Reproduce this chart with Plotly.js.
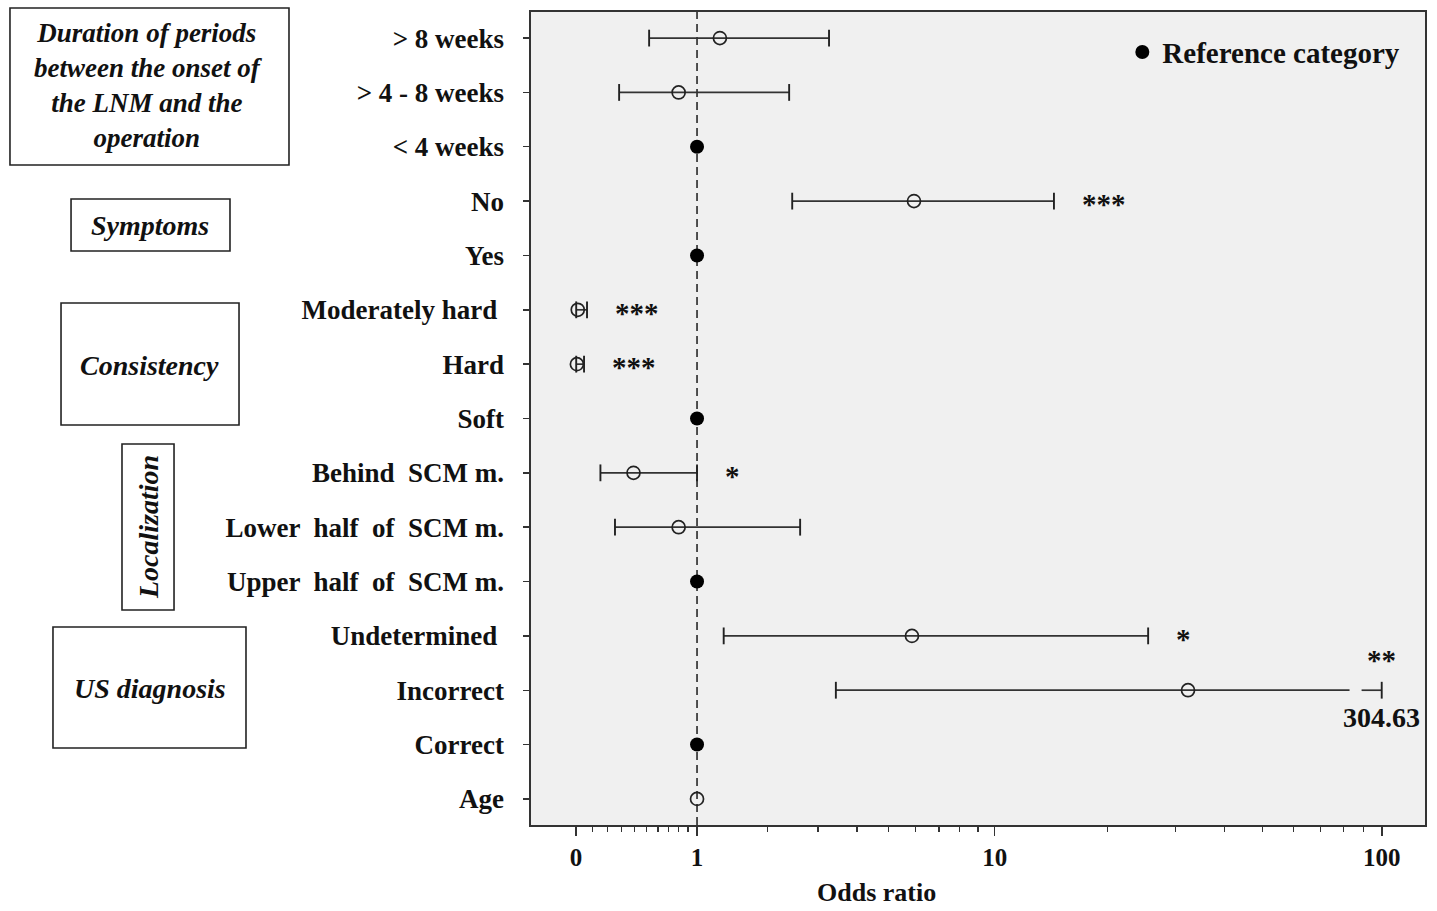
<!DOCTYPE html>
<html>
<head>
<meta charset="utf-8">
<script src="https://cdn.plot.ly/plotly-3.0.1.min.js"></script>
<style>html,body{margin:0;padding:0;background:#fff;}#chart{width:1437px;height:911px;}</style>
</head>
<body>
<div id="chart"></div>
<script>
// ---- data ----
const categories = ["> 8 weeks", "> 4 - 8 weeks", "< 4 weeks", "No", "Yes", "Moderately hard ", "Hard", "Soft",
  "Behind  SCM m.", "Lower  half  of  SCM m.", "Upper  half  of  SCM m.", "Undetermined ", "Incorrect", "Correct", "Age"];
const oddsRatio = [1.28, 0.80, 1, 5.93, 1, 0.01, 0.005, 1, 0.39, 0.80, 1, 5.85, 32.3, 1, 1.00];
const ciLower   = [0.52, 0.28, null, 2.45, null, 0.001, 0.001, null, 0.15, 0.25, null, 1.33, 3.43, null, null];
const ciUpper   = [3.26, 2.39, null, 14.45, null, 0.065, 0.047, null, 1.00, 2.61, null, 25.5, 304.63, null, null];
const isReference = [false, false, true, false, true, false, false, true, false, false, true, false, false, true, false];
const significance = ["", "", "", "***", "", "***", "***", "", "*", "", "", "*", "**", "", ""];
const tickValues = [0, 1, 10, 100];
const tickLabels = ["0", "1", "10", "100"];
const minorValues = [0.1,0.2,0.3,0.4,0.5,0.6,0.7,0.8,0.9,2,3,4,5,6,7,8,9,20,30,40,50,60,70,80,90];
const axisMax = 100;

// axis transform: log10(OR + 1)
const f = v => Math.log10(v + 1);
const SERIF = "Liberation Serif, 'Times New Roman', serif";
const INK = "#222";

// CI lines + caps
const ciX = [], ciY = [], capX = [], capY = [];
const annotations = [];
const starFont = {family: SERIF, size: 29, color: "#111", weight: "bold"};
categories.forEach((c, i) => {
  if (ciLower[i] == null) return;
  const lo = ciLower[i], hi = ciUpper[i];
  if (hi > axisMax) {
    ciX.push(f(lo), f(axisMax * 0.83), null, f(axisMax * 0.89), f(axisMax), null);
    ciY.push(c, c, null, c, c, null);
    capX.push(f(lo), f(axisMax)); capY.push(c, c);
    annotations.push({x: f(axisMax), y: i, text: hi.toFixed(2), showarrow: false, xanchor: "center", yanchor: "middle",
      yshift: -27, font: {family: SERIF, size: 28, color: "#111", weight: "bold"}});
    if (significance[i]) annotations.push({x: f(axisMax), y: i, text: significance[i], showarrow: false, xanchor: "center",
      yanchor: "middle", yshift: 30, font: starFont});
  } else {
    ciX.push(f(lo), f(hi), null); ciY.push(c, c, null);
    capX.push(f(lo), f(hi)); capY.push(c, c);
    if (significance[i]) annotations.push({x: f(hi), y: i, text: significance[i], showarrow: false, xanchor: "left",
      yanchor: "middle", xshift: 26, yshift: -3, font: starFont});
  }
});

const estX = [], estY = [], refX = [], refY = [];
categories.forEach((c, i) => {
  if (isReference[i]) { refX.push(f(oddsRatio[i])); refY.push(c); }
  else { estX.push(f(oddsRatio[i])); estY.push(c); }
});

const traces = [
  {x: ciX, y: ciY, type: "scatter", mode: "lines", line: {color: "#333", width: 1.7}, showlegend: false, hoverinfo: "skip"},
  {x: capX, y: capY, type: "scatter", mode: "markers", marker: {symbol: "line-ns", size: 12, line: {color: "#222", width: 1.9}}, showlegend: false, hoverinfo: "skip"},
  {x: estX, y: estY, type: "scatter", mode: "markers", marker: {symbol: "circle-open", size: 13, color: INK, line: {width: 1.7, color: INK}}, showlegend: false},
  {x: refX, y: refY, type: "scatter", mode: "markers", name: "Reference category", marker: {symbol: "circle", size: 14, color: "#000"}, showlegend: true}
];

// left group boxes (paper coords)
const boxes = [
  {x0: -0.5828, x1: -0.2707, y0: 0.8118, y1: 1.0049, cx: -0.4273, cy: 0.909, text: "Duration of periods<br>between the onset of<br>the LNM and the<br>operation", angle: 0, size: 27},
  {x0: -0.5145, x1: -0.3367, y0: 0.7060, y1: 0.7700, cx: -0.4262, cy: 0.738, text: "Symptoms", angle: 0, size: 28},
  {x0: -0.5257, x1: -0.3266, y0: 0.4920, y1: 0.6421, cx: -0.4262, cy: 0.5658, text: "Consistency", angle: 0, size: 28},
  {x0: -0.4575, x1: -0.3993, y0: 0.2645, y1: 0.4686, cx: -0.4284, cy: 0.3665, text: "Localization", angle: -90, size: 28},
  {x0: -0.5347, x1: -0.3188, y0: 0.0947, y1: 0.2435, cx: -0.4262, cy: 0.1685, text: "US diagnosis", angle: 0, size: 28}
];
const shapes = [
  {type: "line", xref: "x", yref: "paper", x0: f(1), x1: f(1), y0: 0, y1: 1, layer: "below", line: {color: "#333", width: 1.7, dash: "8px,5px"}}
];
boxes.forEach(b => {
  shapes.push({type: "rect", xref: "paper", yref: "paper", x0: b.x0, x1: b.x1, y0: b.y0, y1: b.y1, line: {color: "#222", width: 1.6}, fillcolor: "rgba(0,0,0,0)"});
  annotations.push({xref: "paper", yref: "paper", x: b.cx, y: b.cy, text: "<i>" + b.text + "</i>", showarrow: false,
    textangle: b.angle, xanchor: "center", yanchor: "middle", align: "center",
    font: {family: SERIF, size: b.size, color: "#111", weight: "bold"}});
});
annotations.push({xref: "paper", yref: "paper", x: 0.387, y: -0.0835, text: "Odds ratio", showarrow: false,
  xanchor: "center", yanchor: "middle", font: {family: SERIF, size: 26, color: "#111", weight: "bold"}});

const layout = {
  width: 1437, height: 911,
  margin: {l: 531, r: 12, t: 12, b: 86},
  paper_bgcolor: "#fff", plot_bgcolor: "#f0f0f0",
  font: {family: SERIF, color: "#111"},
  xaxis: {
    range: [-0.112, 2.112], tickmode: "array", tickvals: tickValues.map(f), ticktext: tickLabels,
    ticks: "outside", ticklen: 9, tickwidth: 1.6, tickcolor: "#333",
    minor: {tickmode: "array", tickvals: minorValues.map(f), ticks: "outside", ticklen: 5, tickwidth: 1.3, tickcolor: "#333"},
    showline: true, linecolor: "#333", linewidth: 1.6, mirror: true, showgrid: false, zeroline: false,
    tickfont: {family: SERIF, size: 25, color: "#111", weight: "bold"}
  },
  yaxis: {
    type: "category", categoryorder: "array", categoryarray: categories, range: [14.48, -0.48],
    ticks: "outside", ticklen: 6, tickwidth: 1.4, tickcolor: "#333", ticklabelstandoff: 14,
    showline: true, linecolor: "#333", linewidth: 1.6, mirror: true, showgrid: false, zeroline: false,
    tickfont: {family: SERIF, size: 27, color: "#111", weight: "bold"}
  },
  showlegend: true,
  legend: {x: 0.978, y: 0.982, xanchor: "right", yanchor: "top", bgcolor: "rgba(0,0,0,0)",
    font: {family: SERIF, size: 29, color: "#111", weight: "bold"}, itemwidth: 30},
  shapes: shapes,
  annotations: annotations
};

Plotly.newPlot("chart", traces, layout, {displayModeBar: false, staticPlot: true});
</script>
</body>
</html>
